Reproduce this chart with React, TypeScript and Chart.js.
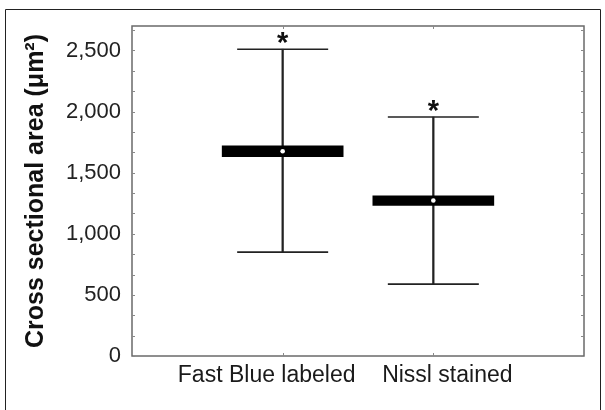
import React, { useEffect, useRef } from 'react';
import { Chart, registerables } from 'chart.js';

Chart.register(...registerables);

const CATEGORIES = ['Fast Blue labeled', 'Nissl stained'];
const MAX_VALUES = [2510, 1955];
const MIN_VALUES = [850, 588];
const BOX_LOW = [1630, 1231];
const BOX_HIGH = [1720, 1310];
const MEAN_VALUES = [1675, 1272];
const SIGNIFICANT = ['*', '*'];
const Y_TICKS = [0, 500, 1000, 1500, 2000, 2500];
const Y_MAX = 2700;

const pad = <T,>(arr: T[]): (T | null)[] => [null, ...arr, null];
const LABELS = ['', ...CATEGORIES, ''];
const LABEL_SHIFT = [-16, 14];

const decor = {
  id: 'decor',
  beforeDatasetsDraw(chart: any) {
    const { ctx, chartArea, scales } = chart;
    const { left, top, right, bottom } = chartArea;
    const y = scales.y;
    const x = scales.x;
    ctx.save();
    // outer border of figure
    ctx.strokeStyle = '#222';
    ctx.lineWidth = 1;
    ctx.beginPath();
    ctx.moveTo(5.5, 410);
    ctx.lineTo(5.5, 9.5);
    ctx.lineTo(600.5, 9.5);
    ctx.lineTo(600.5, 410);
    ctx.stroke();
    // plot frame
    ctx.strokeStyle = '#6a6a6a';
    ctx.lineWidth = 1.5;
    ctx.strokeRect(left, top, right - left, bottom - top);
    // minor ticks on left and right
    ctx.lineWidth = 1;
    ctx.strokeStyle = '#888';
    ctx.beginPath();
    for (let i = 0; i < Y_TICKS.length; i++) {
      for (let k = 0; k < 3; k++) {
        const v = Y_TICKS[i] + (k * 500) / 3;
        if (v > Y_MAX) continue;
        const py = Math.round(y.getPixelForValue(v)) + 0.5;
        ctx.moveTo(left, py);
        ctx.lineTo(left + 3, py);
        ctx.moveTo(right, py);
        ctx.lineTo(right - 3, py);
      }
    }
    for (let i = 0; i < CATEGORIES.length; i++) {
      const px = Math.round(x.getPixelForValue(i + 1)) + 0.5;
      ctx.moveTo(px, top);
      ctx.lineTo(px, top + 3);
      ctx.moveTo(px, bottom);
      ctx.lineTo(px, bottom - 3);
    }
    ctx.stroke();
    ctx.restore();
  },
  afterDatasetsDraw(chart: any) {
    const { ctx, chartArea, scales } = chart;
    const { bottom } = chartArea;
    const y = scales.y;
    const x = scales.x;
    ctx.save();
    ctx.fillStyle = '#111';
    ctx.textAlign = 'center';
    ctx.textBaseline = 'alphabetic';
    ctx.font = 'bold 29px "Liberation Sans", Arial, sans-serif';
    for (let i = 0; i < CATEGORIES.length; i++) {
      const px = x.getPixelForValue(i + 1);
      ctx.fillText(SIGNIFICANT[i], px, y.getPixelForValue(MAX_VALUES[i]) + 3);
    }
    ctx.font = '23px "Liberation Sans", Arial, sans-serif';
    ctx.fillStyle = '#1a1a1a';
    for (let i = 0; i < CATEGORIES.length; i++) {
      const px = x.getPixelForValue(i + 1) + LABEL_SHIFT[i];
      ctx.fillText(CATEGORIES[i], px, bottom + 26);
    }
    ctx.restore();
  },
};

export default function App() {
  const ref = useRef<HTMLCanvasElement>(null);
  useEffect(() => {
    if (!ref.current) return;
    const chart = new Chart(ref.current, {
      type: 'bar',
      data: {
        labels: LABELS,
        datasets: [
          {
            type: 'line',
            data: pad(MEAN_VALUES),
            showLine: false,
            pointStyle: 'circle',
            pointRadius: 2.3,
            pointBackgroundColor: '#ffffff',
            pointBorderWidth: 0,
            clip: false,
            order: 0,
          } as any,
          {
            type: 'bar',
            data: pad(BOX_LOW.map((lo, i) => [lo, BOX_HIGH[i]])),
            backgroundColor: '#000000',
            borderWidth: 0,
            barThickness: 121,
            grouped: false,
            order: 1,
          } as any,
          {
            type: 'line',
            data: pad(MAX_VALUES),
            showLine: false,
            pointStyle: 'line',
            pointRadius: 45.5,
            pointBorderColor: '#222',
            pointBorderWidth: 1.6,
            clip: false,
            order: 2,
          } as any,
          {
            type: 'line',
            data: pad(MIN_VALUES),
            showLine: false,
            pointStyle: 'line',
            pointRadius: 45.5,
            pointBorderColor: '#222',
            pointBorderWidth: 1.6,
            clip: false,
            order: 2,
          } as any,
          {
            type: 'bar',
            data: pad(MIN_VALUES.map((lo, i) => [lo, MAX_VALUES[i]])),
            backgroundColor: '#222',
            borderWidth: 0,
            barThickness: 1.6,
            grouped: false,
            order: 3,
          } as any,
        ],
      },
      options: {
        responsive: false,
        animation: false,
        layout: { autoPadding: false, padding: { top: 26, right: 21, bottom: 54, left: 0 } },
        plugins: {
          legend: { display: false },
          tooltip: { enabled: false },
        },
        scales: {
          x: {
            type: 'category',
            offset: false,
            display: false,
            grid: { display: false },
          },
          y: {
            min: 0,
            max: Y_MAX,
            grid: { display: false, drawTicks: false },
            border: { display: false },
            afterBuildTicks: (scale: any) => {
              scale.ticks = Y_TICKS.map((v) => ({ value: v }));
            },
            afterFit: (scale: any) => {
              scale.width = 132;
              scale.paddingTop = 0;
              scale.paddingBottom = 0;
            },
            ticks: {
              padding: 11,
              color: '#222',
              font: { family: '"Liberation Sans", Arial, sans-serif', size: 22 },
              callback: (v: any) => Number(v).toLocaleString('en-US'),
            },
            title: {
              display: true,
              text: 'Cross sectional area (μm²)',
              color: '#111',
              padding: { top: 21, bottom: 0 },
              font: { family: '"Liberation Sans", Arial, sans-serif', size: 25, weight: 'bold' },
            },
          },
        },
      },
      plugins: [decor],
    });
    return () => chart.destroy();
  }, []);
  return (
    <div style={{ position: 'fixed', left: 0, top: 0, width: 605, height: 410, background: '#fff' }}>
      <canvas ref={ref} width={605} height={410} style={{ display: 'block' }} />
    </div>
  );
}
